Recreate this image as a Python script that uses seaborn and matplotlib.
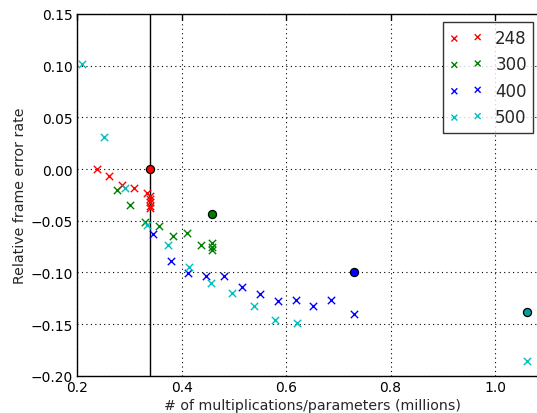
import matplotlib
matplotlib.use("Agg")
import matplotlib.pyplot as plt
import seaborn as sns
import pandas as pd

# ---- data ----
labels = ["248", "300", "400", "500"]
colors = ["#ff0000", "#008000", "#0000ff", "#00bfbf"]

x_248 = [0.238, 0.261, 0.285, 0.308, 0.333, 0.339, 0.339, 0.339, 0.339, 0.339]
y_248 = [0.000, -0.007, -0.015, -0.018, -0.0235, -0.026, -0.029, -0.032, -0.0355, -0.038]

x_300 = [0.275, 0.301, 0.329, 0.356, 0.383, 0.410, 0.437, 0.458, 0.458, 0.458]
y_300 = [-0.0206, -0.035, -0.051, -0.055, -0.065, -0.062, -0.074, -0.072, -0.075, -0.078]

x_400 = [0.345, 0.379, 0.412, 0.447, 0.481, 0.515, 0.550, 0.584, 0.618, 0.652, 0.686, 0.730]
y_400 = [-0.063, -0.089, -0.1005, -0.104, -0.104, -0.114, -0.121, -0.128, -0.127, -0.1325, -0.127, -0.1405]

x_500 = [0.209, 0.250, 0.291, 0.333, 0.374, 0.414, 0.456, 0.497, 0.538, 0.579, 0.621, 1.061]
y_500 = [0.1015, 0.031, -0.0187, -0.054, -0.074, -0.0945, -0.1105, -0.120, -0.133, -0.1463, -0.1486, -0.186]

# highlighted points (circles)
best_x = [0.339, 0.458, 0.730, 1.061]
best_y = [0.000, -0.044, -0.0996, -0.138]
best_colors = ["#ff0000", "#008000", "#0000ff", "#00a0a0"]

vline_x = 0.339

xs = [x_248, x_300, x_400, x_500]
ys = [y_248, y_300, y_400, y_500]

# ---- plotting ----
sns.set_theme(style="white")
plt.rcParams["font.family"] = ["DejaVu Sans"]
plt.rcParams["axes.unicode_minus"] = True

fig = plt.figure(figsize=(5.37, 4.14), dpi=100)
W, H = 537, 414
x0_px, xscale = 77.4, 522.0
xmin, xmax = 0.2, 1.1
ax = fig.add_axes([x0_px / W, (414 - 376.7) / H, (xmax - xmin) * xscale / W, (376.7 - 15) / H])

ax.axvline(vline_x, color="black", lw=1.0, zorder=2)

for lab, col, xv, yv in zip(labels, colors, xs, ys):
    df = pd.DataFrame({"x": xv, "y": yv})
    sns.scatterplot(data=df, x="x", y="y", marker="x", color=col, s=28,
                    linewidth=1.0, label=lab, ax=ax, zorder=3)

for bx, by, bc in zip(best_x, best_y, best_colors):
    sns.scatterplot(x=[bx], y=[by], marker="o", color=bc, edgecolor="black",
                    s=34, linewidth=0.9, ax=ax, legend=False, zorder=4)

ax.set_xlim(xmin, xmax)
ax.set_ylim(-0.20, 0.15)
ax.set_xticks([0.2, 0.4, 0.6, 0.8, 1.0])
ax.set_xticklabels(["0.2", "0.4", "0.6", "0.8", "1.0"])
ax.set_yticks([-0.20, -0.15, -0.10, -0.05, 0.0, 0.05, 0.10, 0.15])
ax.set_yticklabels(["\u22120.20", "\u22120.15", "\u22120.10", "\u22120.05", "0.00", "0.05", "0.10", "0.15"])

ax.grid(True, color="black", linestyle=(0, (1, 3)), linewidth=0.8)
ax.tick_params(direction="in", length=4, width=1, top=True, right=True,
               labelsize=10, colors="black", pad=3)
for sp in ax.spines.values():
    sp.set_color("black")
    sp.set_linewidth(1.0)

ax.set_xlabel("# of multiplications/parameters (millions)", fontsize=10.2, labelpad=3)
ax.set_ylabel("Relative frame error rate", fontsize=10.2, labelpad=3)

leg = ax.legend(loc="upper left", bbox_to_anchor=(442.7 / W, 1 - 23.3 / H),
                bbox_transform=fig.transFigure, borderaxespad=0,
                scatterpoints=2, fontsize=12, frameon=True, fancybox=False,
                handlelength=2.0, handletextpad=0.75, labelspacing=0.5,
                borderpad=0.4, markerscale=0.8)
leg.get_frame().set_edgecolor("black")
leg.get_frame().set_linewidth(1.0)

fig.savefig("out.png", dpi=100)
